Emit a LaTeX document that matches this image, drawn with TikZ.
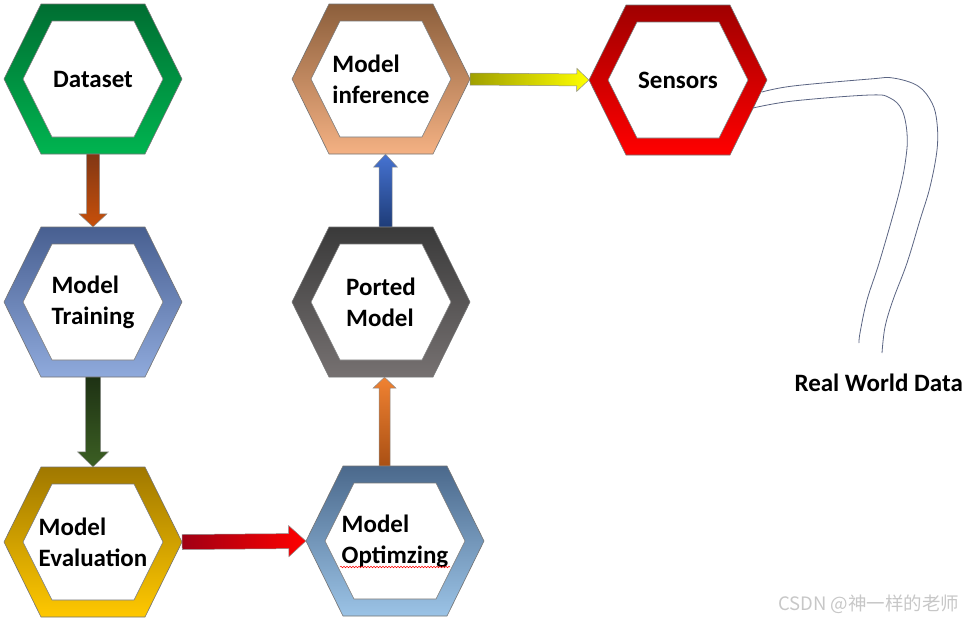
\documentclass[tikz,border=0pt]{standalone}
\usepackage{fontspec}
\setmainfont{Carlito}
\newfontfamily\cjkfont{Noto Sans CJK SC}
\usetikzlibrary{calc,decorations.pathmorphing}

\definecolor{dsTop}{RGB}{0,110,50}
\definecolor{dsBot}{RGB}{0,180,80}
\definecolor{trTop}{RGB}{72,95,145}
\definecolor{trBot}{RGB}{143,170,220}
\definecolor{evTop}{RGB}{160,120,0}
\definecolor{evBot}{RGB}{255,200,0}
\definecolor{opTop}{RGB}{75,105,140}
\definecolor{opBot}{RGB}{155,195,230}
\definecolor{poTop}{RGB}{58,58,58}
\definecolor{poBot}{RGB}{118,113,113}
\definecolor{inTop}{RGB}{140,95,60}
\definecolor{inBot}{RGB}{244,177,131}
\definecolor{seTop}{RGB}{160,0,0}
\definecolor{seBot}{RGB}{255,0,0}
\definecolor{cableBlue}{RGB}{90,100,130}

\tikzset{
  hexlabel/.style={minimum width=178pt, minimum height=150pt, inner sep=0pt,
    align=left, font=\bfseries\fontsize{25}{31}\selectfont},
  ring/.style={draw=black!55, line width=0.6pt},
  hole/.style={fill=white, draw=black!55, line width=0.6pt},
  blockline/.style={draw=black!45, line width=0.5pt},
  cable/.style={draw=cableBlue, line width=0.8pt},
}

% block arrow: start, tip, shaft half width, head half width, head length, shading
\newcommand{\blockarrow}[6]{%
  \coordinate (hb) at ($(#2)!#5!(#1)$);
  \shadedraw[blockline, #6]
    ($(#1)!#3!90:(#2)$) -- ($(hb)!#3!90:(#2)$) -- ($(hb)!#4!90:(#2)$) -- (#2)
    -- ($(hb)!#4!-90:(#2)$) -- ($(hb)!#3!-90:(#2)$) -- ($(#1)!#3!-90:(#2)$) -- cycle;
}

\begin{document}
\begin{tikzpicture}[x=1pt, y=-1pt]

  \pgfmathsetmacro{\hexW}{89}
  \pgfmathsetmacro{\hexE}{52}
  \pgfmathsetmacro{\hexH}{75}
  \pgfmathsetmacro{\inW}{70}
  \pgfmathsetmacro{\inE}{41}
  \pgfmathsetmacro{\inH}{58}

  \useasboundingbox (0,0) rectangle (967,622);

  %% hexagon rings, top colour to bottom colour
  \foreach \name/\px/\py/\ctop/\cbot/\txt in {
      data/93/79/dsTop/dsBot/{Dataset},
      train/93/302/trTop/trBot/{Model\\Training},
      eval/93/542/evTop/evBot/{Model\\Evaluation},
      opt/395/541/opTop/opBot/{Model\\Optimzing},
      ported/381/302/poTop/poBot/{Ported\\Model},
      infer/381/79/inTop/inBot/{Model\\inference},
      sens/678/80/seTop/seBot/{Sensors}}
  {
    \shadedraw[ring, top color=\ctop, bottom color=\cbot]
      (\px-\hexW,\py) -- (\px-\hexE,\py-\hexH) -- (\px+\hexE,\py-\hexH)
      -- (\px+\hexW,\py) -- (\px+\hexE,\py+\hexH) -- (\px-\hexE,\py+\hexH) -- cycle;
    \filldraw[hole]
      (\px-\inW,\py) -- (\px-\inE,\py-\inH) -- (\px+\inE,\py-\inH)
      -- (\px+\inW,\py) -- (\px+\inE,\py+\inH) -- (\px-\inE,\py+\inH) -- cycle;
    \node[hexlabel] (\name) at (\px,\py) {\txt};
  }

  %% ends of the two upward arrows
  \coordinate (optUp) at ($(opt.north)+(-10.5,0)$);
  \coordinate (portedDn) at ($(ported.south)+(3.5,0)$);
  \coordinate (portedUp) at ($(ported.north)+(4.5,0)$);
  \coordinate (inferDn) at ($(infer.south)+(4.5,0)$);

  \blockarrow{data.south}{train.north}{6.5pt}{14pt}{13pt}{top color={rgb,255:red,130;green,55;blue,20}, bottom color={rgb,255:red,200;green,80;blue,10}}
  \blockarrow{train.south}{eval.north}{7.5pt}{15.5pt}{15pt}{top color={rgb,255:red,30;green,50;blue,20}, bottom color={rgb,255:red,60;green,95;blue,35}}
  \blockarrow{eval.east}{opt.west}{7.5pt}{15.5pt}{17pt}{left color={rgb,255:red,160;green,0;blue,20}, right color={rgb,255:red,255;green,0;blue,0}}
  \blockarrow{optUp}{portedDn}{5.5pt}{11.5pt}{11pt}{top color={rgb,255:red,240;green,130;blue,50}, bottom color={rgb,255:red,170;green,80;blue,20}}
  \blockarrow{portedUp}{inferDn}{6.5pt}{12pt}{13pt}{top color={rgb,255:red,70;green,115;blue,210}, bottom color={rgb,255:red,30;green,60;blue,120}}
  \blockarrow{infer.east}{sens.west}{6pt}{11.5pt}{12pt}{left color={rgb,255:red,160;green,160;blue,0}, right color={rgb,255:red,255;green,255;blue,0}}

  %% spell check line under Optimzing
  \draw[red, line width=0.5pt, decorate, decoration={snake, amplitude=0.8pt, segment length=3pt}]
    ($(opt)+(-55,26)$) -- ($(opt)+(55,26)$);

  %% cable to the real world
  \draw[cable] plot[smooth, tension=0.6] coordinates {(762,92) (793,86) (870,79) (893,78)
    (918,86) (932,103) (937,123) (937,150) (930,187) (920,220) (907,263) (893,300) (885,327) (882,353)};
  \draw[cable] plot[smooth, tension=0.6] coordinates {(753,108) (793,101) (870,95) (890,98)
    (902,110) (907,133) (906,157) (899,193) (880,260) (867,300) (860,333) (859,343)};

  \node[anchor=west, font=\bfseries\fontsize{25}{31}\selectfont] (world) at (791,383) {Real World Data};

  \node[anchor=east, text=black!22, font=\cjkfont\fontsize{18.5}{18.5}\selectfont] (mark) at (963,604) {CSDN @神一样的老师};

\end{tikzpicture}
\end{document}
